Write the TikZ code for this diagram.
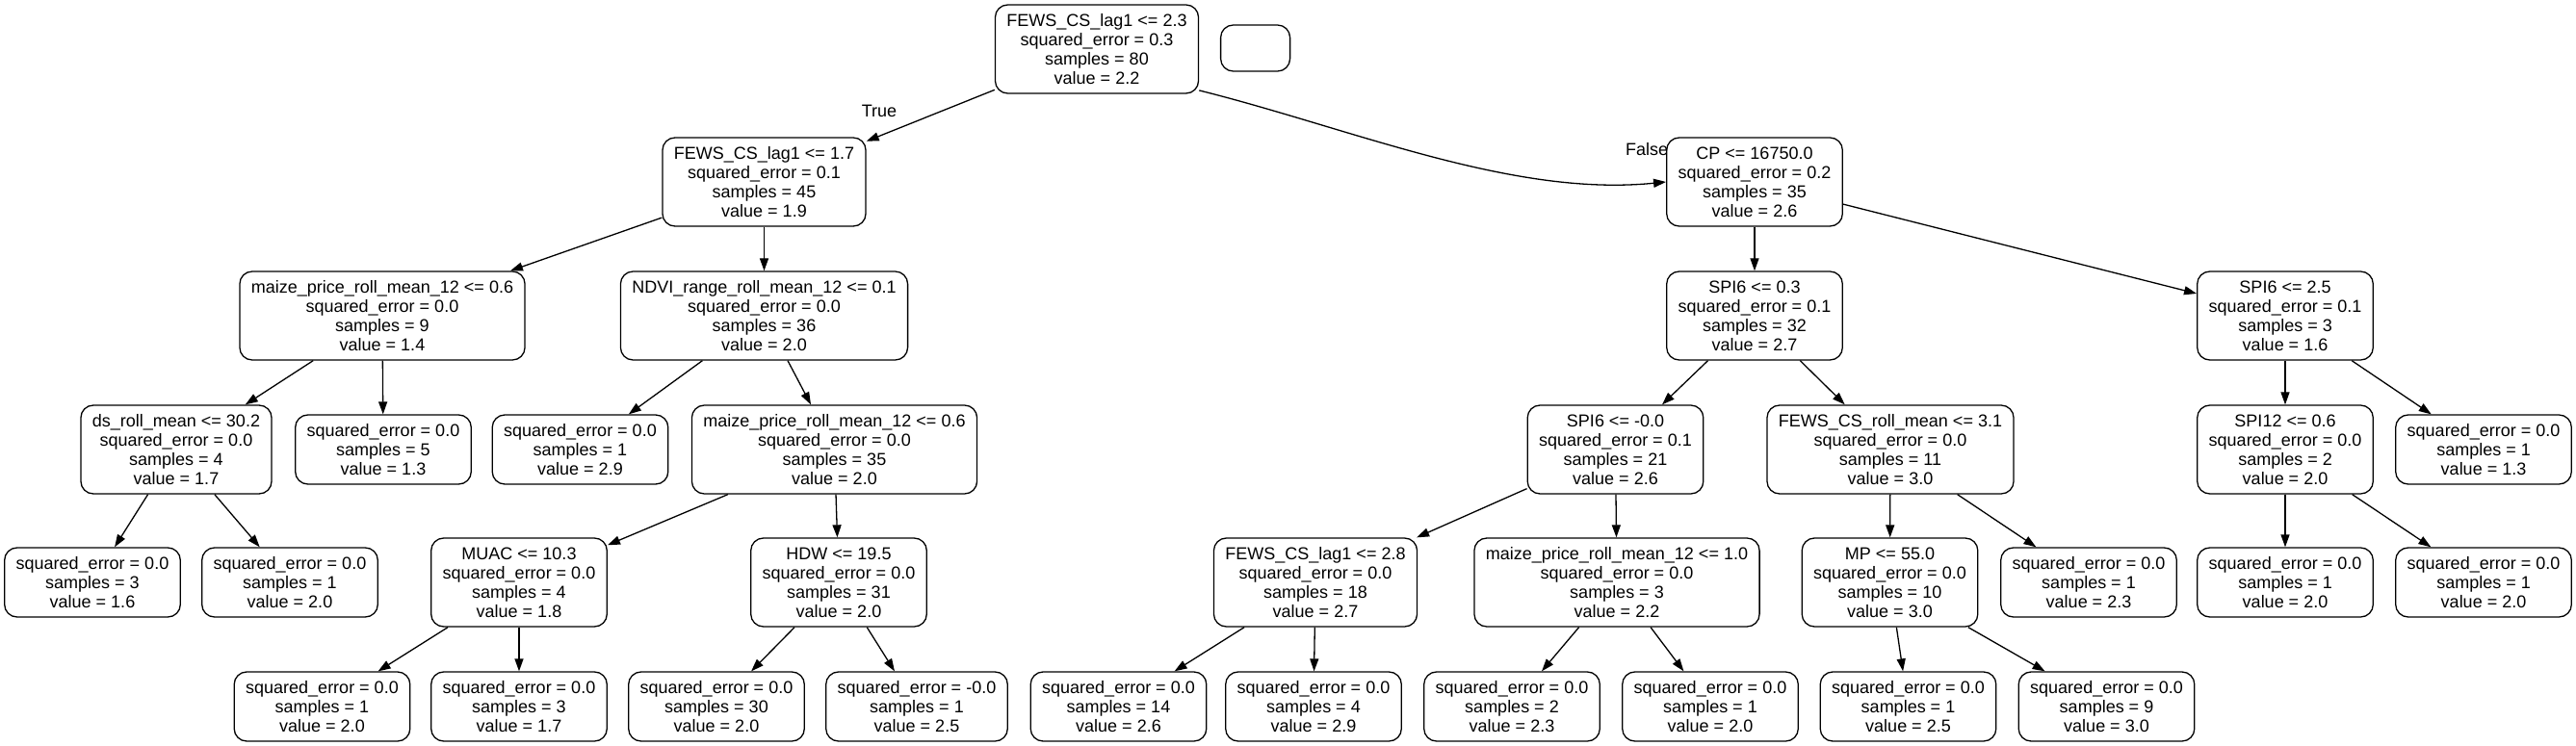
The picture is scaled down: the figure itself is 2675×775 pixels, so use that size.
\documentclass[tikz,border=0pt]{standalone}
\usepackage{fontspec}
\setmainfont{Liberation Sans}
\usetikzlibrary{arrows.meta}

\begin{document}
\begin{tikzpicture}[x=1pt, y=-1pt, line width=1.3pt,
		every node/.style={font=\fontsize{18}{20}\selectfont},
		box/.style={draw, rounded corners=13pt, align=center, inner xsep=12pt, inner ysep=2pt},
		split/.style={box, minimum height=92pt},
		leaf/.style={box, minimum height=72pt},
		edge/.style={-{Triangle[length=13pt,width=9pt]}}]
		\useasboundingbox (0,0) rectangle (2675,775);
		% level 0
		\node[split] (root) at (1139,51) {FEWS\_CS\_lag1 <= 2.3\\squared\_error = 0.3\\samples = 80\\value = 2.2};
		\node[box, minimum width=72pt, minimum height=48pt] (blank) at (1303.6,50) {};
		% level 1
		\node[split] (lagA) at (793.5,189) {FEWS\_CS\_lag1 <= 1.7\\squared\_error = 0.1\\samples = 45\\value = 1.9};
		\node[split] (cp) at (1822,189) {CP <= 16750.0\\squared\_error = 0.2\\samples = 35\\value = 2.6};
		% level 2
		\node[split] (maizeA) at (397,328) {maize\_price\_roll\_mean\_12 <= 0.6\\squared\_error = 0.0\\samples = 9\\value = 1.4};
		\node[split] (ndvi) at (793.5,328) {NDVI\_range\_roll\_mean\_12 <= 0.1\\squared\_error = 0.0\\samples = 36\\value = 2.0};
		\node[split] (spiA) at (1822,328) {SPI6 <= 0.3\\squared\_error = 0.1\\samples = 32\\value = 2.7};
		\node[split] (spiB) at (2373,328) {SPI6 <= 2.5\\squared\_error = 0.1\\samples = 3\\value = 1.6};
		% level 3
		\node[split] (ds) at (183,467) {ds\_roll\_mean <= 30.2\\squared\_error = 0.0\\samples = 4\\value = 1.7};
		\node[leaf] (lfA) at (398,467) {squared\_error = 0.0\\samples = 5\\value = 1.3};
		\node[leaf] (lfB) at (602.5,467) {squared\_error = 0.0\\samples = 1\\value = 2.9};
		\node[split] (maizeB) at (866.5,467) {maize\_price\_roll\_mean\_12 <= 0.6\\squared\_error = 0.0\\samples = 35\\value = 2.0};
		\node[split] (spiC) at (1677.5,467) {SPI6 <= -0.0\\squared\_error = 0.1\\samples = 21\\value = 2.6};
		\node[split] (fewsroll) at (1963,467) {FEWS\_CS\_roll\_mean <= 3.1\\squared\_error = 0.0\\samples = 11\\value = 3.0};
		\node[split] (spiD) at (2373,467) {SPI12 <= 0.6\\squared\_error = 0.0\\samples = 2\\value = 2.0};
		\node[leaf] (lfC) at (2579,467) {squared\_error = 0.0\\samples = 1\\value = 1.3};
		% level 4
		\node[leaf] (lfD) at (96,605) {squared\_error = 0.0\\samples = 3\\value = 1.6};
		\node[leaf] (lfE) at (301,605) {squared\_error = 0.0\\samples = 1\\value = 2.0};
		\node[split] (muac) at (539,605) {MUAC <= 10.3\\squared\_error = 0.0\\samples = 4\\value = 1.8};
		\node[split] (hdw) at (871,605) {HDW <= 19.5\\squared\_error = 0.0\\samples = 31\\value = 2.0};
		\node[split] (lagB) at (1366,605) {FEWS\_CS\_lag1 <= 2.8\\squared\_error = 0.0\\samples = 18\\value = 2.7};
		\node[split] (maizeC) at (1679,605) {maize\_price\_roll\_mean\_12 <= 1.0\\squared\_error = 0.0\\samples = 3\\value = 2.2};
		\node[split] (mp) at (1962.5,605) {MP <= 55.0\\squared\_error = 0.0\\samples = 10\\value = 3.0};
		\node[leaf] (lfF) at (2169,605) {squared\_error = 0.0\\samples = 1\\value = 2.3};
		\node[leaf] (lfG) at (2373,605) {squared\_error = 0.0\\samples = 1\\value = 2.0};
		\node[leaf] (lfH) at (2579,605) {squared\_error = 0.0\\samples = 1\\value = 2.0};
		% level 5
		\node[leaf] (lfI) at (334.5,734) {squared\_error = 0.0\\samples = 1\\value = 2.0};
		\node[leaf] (lfJ) at (539,734) {squared\_error = 0.0\\samples = 3\\value = 1.7};
		\node[leaf] (lfK) at (744,734) {squared\_error = 0.0\\samples = 30\\value = 2.0};
		\node[leaf] (lfL) at (952,734) {squared\_error = -0.0\\samples = 1\\value = 2.5};
		\node[leaf] (lfM) at (1161.5,734) {squared\_error = 0.0\\samples = 14\\value = 2.6};
		\node[leaf] (lfN) at (1364,734) {squared\_error = 0.0\\samples = 4\\value = 2.9};
		\node[leaf] (lfO) at (1570,734) {squared\_error = 0.0\\samples = 2\\value = 2.3};
		\node[leaf] (lfP) at (1776,734) {squared\_error = 0.0\\samples = 1\\value = 2.0};
		\node[leaf] (lfQ) at (1981.5,734) {squared\_error = 0.0\\samples = 1\\value = 2.5};
		\node[leaf] (lfR) at (2187.5,734) {squared\_error = 0.0\\samples = 9\\value = 3.0};
		% edges
		\draw[edge] (root) -- (lagA);
		\node (true) at (913,115) {True};
		\draw[edge] (root.-22) .. controls +(160,40) and +(-160,16) .. (cp.west); % curved
		\node (false) at (1710,155) {False};
		\foreach \a/\b in {lagA/maizeA, lagA/ndvi, maizeA/ds, maizeA/lfA, ds/lfD, ds/lfE,
			ndvi/lfB, ndvi/maizeB, maizeB/muac, maizeB/hdw, muac/lfI, muac/lfJ, hdw/lfK, hdw/lfL,
			cp/spiA, cp/spiB, spiA/spiC, spiA/fewsroll, spiC/lagB, spiC/maizeC, lagB/lfM, lagB/lfN,
			maizeC/lfO, maizeC/lfP, fewsroll/mp, fewsroll/lfF, mp/lfQ, mp/lfR,
			spiB/spiD, spiB/lfC, spiD/lfG, spiD/lfH}
			\draw[edge] (\a) -- (\b);
\end{tikzpicture}
\end{document}
